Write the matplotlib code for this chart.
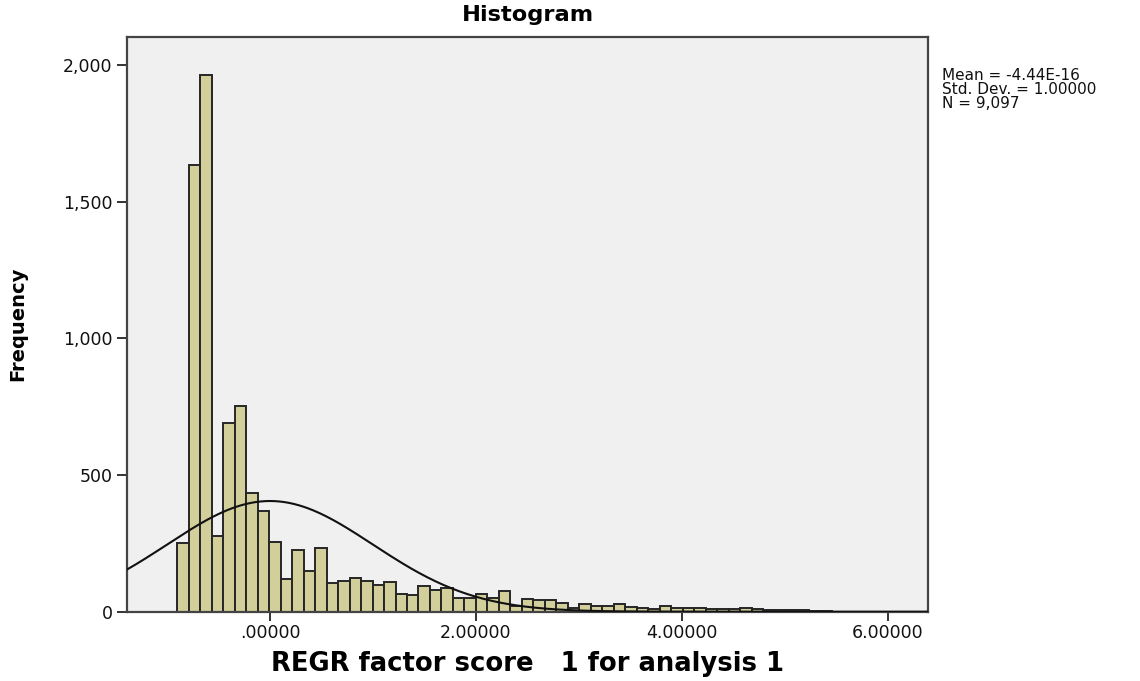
import numpy as np
import matplotlib
matplotlib.use('Agg')
import matplotlib.pyplot as plt

# ---- data ----
counts = [252, 1635, 1965, 276, 689, 752, 435, 370, 254, 120, 227, 150, 233, 105,
          113, 123, 111, 96, 109, 66, 60,
          93, 78, 87, 50, 50, 65, 50, 74, 22, 46, 41, 41, 33, 15, 29, 20, 20, 29,
          17, 15, 11, 20,
          15, 12, 13, 9, 11, 9, 13, 9, 6, 6, 5, 5, 3, 2]
first_edge = -0.901
bin_width = 0.1116
mean_val = -4.44e-16
sd_val = 1.0
n_val = 9097

xticks = [0, 2, 4, 6]
xtick_labels = ['.00000', '2.00000', '4.00000', '6.00000']
yticks = [0, 500, 1000, 1500, 2000]
ytick_labels = ['0', '500', '1,000', '1,500', '2,000']
stats_lines = ['Mean = -4.44E-16', 'Std. Dev. = 1.00000', 'N = 9,097']

# ---- figure ----
W, H = 1140, 681
fig = plt.figure(figsize=(W / 100, H / 100), dpi=100, facecolor='white')
ax_l, ax_r, ax_t, ax_b = 127.3, 927.7, 36.7, 611.7
ax = fig.add_axes([ax_l / W, 1 - ax_b / H, (ax_r - ax_l) / W, (ax_b - ax_t) / H])
ax.set_facecolor('#F0F0F0')

edges = first_edge + np.arange(len(counts) + 1) * bin_width
ax.bar(edges[:-1], counts, width=bin_width, align='edge',
       color='#D3CF9B', edgecolor='#262626', linewidth=1.4, zorder=2)

xlim = (-1.386, 6.389)
xs = np.linspace(xlim[0], xlim[1], 500)
ys = n_val * bin_width / (sd_val * np.sqrt(2 * np.pi)) * np.exp(-0.5 * ((xs - mean_val) / sd_val) ** 2)
ax.plot(xs, ys, color='#111111', linewidth=1.5, zorder=3)

ax.set_xlim(*xlim)
ax.set_ylim(0, 2104)
ax.set_xticks(xticks)
ax.set_xticklabels(xtick_labels)
ax.set_yticks(yticks)
ax.set_yticklabels(ytick_labels)
ax.tick_params(axis='x', direction='out', length=6.5, width=1.4, color='#333333',
               labelsize=12.5, labelcolor='#111111', pad=2)
ax.tick_params(axis='y', direction='out', length=7.5, width=1.4, color='#333333',
               labelsize=12.5, labelcolor='#111111', pad=3)
for side, sp in ax.spines.items():
    sp.set_color('#444444')
    sp.set_linewidth(1.6)

ax.set_xlabel('REGR factor score   1 for analysis 1', fontsize=18.6, fontweight='bold',
              labelpad=7)
ax.set_ylabel('Frequency', fontsize=14, fontweight='bold', labelpad=26)
ax.set_title('Histogram', fontsize=16.2, fontweight='bold', pad=11)

fig.text(942 / W, 1 - 68.0 / H, '\n'.join(stats_lines), fontsize=11,
         ha='left', va='top', color='#111111', linespacing=0.9)

fig.savefig('out.png', dpi=100, facecolor='white')
